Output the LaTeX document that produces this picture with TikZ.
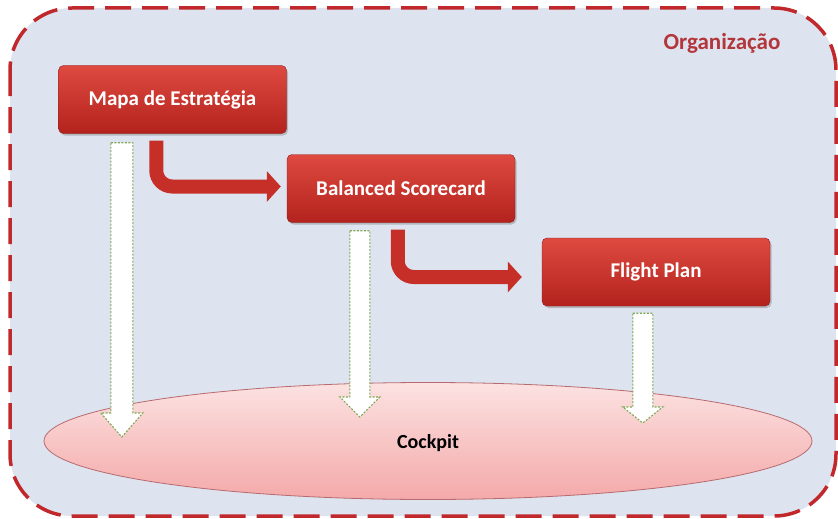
\documentclass[tikz,border=0pt]{standalone}
\usepackage{fontspec}
\setmainfont{Carlito}
\usetikzlibrary{arrows.meta,shadows,calc,shapes.geometric}
\definecolor{frame}{HTML}{C0282C}
\definecolor{panel}{HTML}{DDE4F0}
\definecolor{boxtop}{HTML}{DE4A40}
\definecolor{boxbot}{HTML}{B3221D}
\definecolor{flowred}{HTML}{C62E28}
\definecolor{ovaltop}{HTML}{FCE2E2}
\definecolor{ovalbot}{HTML}{F4A9A9}
\definecolor{ovalline}{HTML}{B86A6E}
\definecolor{dashgreen}{HTML}{7FA855}
\definecolor{orgred}{HTML}{B3363A}
\tikzset{
  x=1pt, y=-1pt,
  stepbox/.style={rounded corners=5pt, top color=boxtop, bottom color=boxbot,
    draw=boxbot!80!black, line width=0.4pt, minimum width=228pt, minimum height=68pt,
    text=white, font=\bfseries\fontsize{21}{24}\selectfont,
    drop shadow={shadow xshift=1.5pt, shadow yshift=-2pt, opacity=0.35, fill=black!60}},
  flow/.style={line width=14pt, draw=flowred, rounded corners=16pt,
    -{Triangle[width=30pt, length=14pt]}},
  downarrow/.style={fill=white, draw=dashgreen, line width=1.1pt, dash pattern=on 2pt off 1.5pt},
}
% hollow block arrow pointing down from #1 to #2
\newcommand\blockdown[4]{%
  \draw[downarrow] let \p1=(#1), \p2=(#2) in
    (\x1-#3,\y1) -- (\x1+#3,\y1) -- (\x1+#3,\y2+#4) -- (\x1+#3+10pt,\y2+#4)
    -- (\x1,\y2) -- (\x1-#3-10pt,\y2+#4) -- (\x1-#3,\y2+#4) -- cycle;}
\begin{document}
\begin{tikzpicture}
\useasboundingbox (0,0) rectangle (838,519);
\fill[white] (0,0) rectangle (838,519);
% organisation frame
\draw[frame, line width=3.5pt, dash pattern=on 26pt off 11pt, fill=panel,
  rounded corners=62pt] (10,8) rectangle (836,516);
\node[text=orgred, font=\bfseries\fontsize{23}{26}\selectfont] (org) at (722,43) {Organização};

% cockpit platform
\node[ellipse, minimum width=768pt, minimum height=117pt, top color=ovaltop,
  bottom color=ovalbot, draw=ovalline, line width=0.8pt] (cockpit) at (428,441) {};
\node[font=\bfseries\fontsize{20}{24}\selectfont] (cocklabel) at (428,443) {Cockpit};

% planning steps
\node[stepbox] (mapa) at (172.5,99.5) {Mapa de Estratégia};
\node[stepbox] (bsc) at (401,188.5) {Balanced Scorecard};
\node[stepbox] (plan) at (656,272) {Flight Plan};

% cascading flow between steps
\coordinate (m1) at ($(mapa.south west)+(98,7)$);
\coordinate (b1) at ($(bsc.west)+(-6,-2)$);
\draw[flow] (m1) |- (b1);
\coordinate (m2) at ($(bsc.south west)+(111,7)$);
\coordinate (f1) at ($(plan.west)+(-20,5)$);
\draw[flow] (m2) |- (f1);

% feeds into the cockpit
\coordinate (t1) at (121.5,437);
\coordinate (t2) at (360,417);
\coordinate (t3) at (643,423);
\blockdown{$(mapa.south west)+(63.5,9)$}{t1}{11pt}{24pt}
\blockdown{$(bsc.south west)+(73,8)$}{t2}{10pt}{20pt}
\blockdown{$(plan.south west)+(101,7)$}{t3}{10pt}{16pt}
\end{tikzpicture}
\end{document}
